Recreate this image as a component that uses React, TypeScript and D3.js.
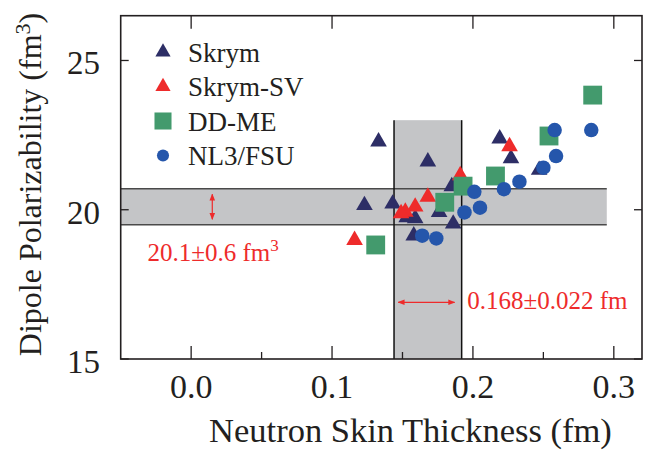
import * as d3 from "d3";

// [skin thickness (fm), polarizability (fm^3)]
const skyrme: [number, number][] = [
  [0.133, 22.28], [0.168, 21.61], [0.219, 22.38], [0.227, 21.72], [0.247, 21.33],
  [0.123, 20.15], [0.143, 20.2], [0.176, 19.92], [0.186, 19.53], [0.185, 20.78],
  [0.153, 19.74], [0.159, 19.71], [0.158, 19.13],
];
const skyrmeSV: [number, number][] = [
  [0.116, 18.98], [0.226, 22.12], [0.168, 20.43], [0.159, 20.1], [0.152, 19.93],
  [0.149, 19.88], [0.191, 21.15],
];
const ddme: [number, number][] = [
  [0.285, 23.84], [0.254, 22.47], [0.216, 21.13], [0.193, 20.79], [0.18, 20.25], [0.131, 18.82],
];
const nl3fsu: [number, number][] = [
  [0.258, 22.67], [0.284, 22.67], [0.259, 21.8], [0.25, 21.41], [0.233, 20.94],
  [0.222, 20.69], [0.201, 20.6], [0.205, 20.07], [0.194, 19.91], [0.164, 19.13], [0.174, 19.04],
];

const legendNames = ["Skrym", "Skrym-SV", "DD-ME", "NL3/FSU"];
const xMajor = [0, 0.1, 0.2, 0.3];
const xMinor = [0.05, 0.15, 0.25];
const yMajor = [15, 20, 25];

// experimental constraints
const alphaBand = [19.5, 20.7];
const alphaBandRight = 0.295;
const skinBand = [0.144, 0.192];
const skinBandTop = 23;

const W = 654;
const H = 452;
const M = { left: 120.7, top: 15.7, right: 12, bottom: 93 };

const NAVY = "#2d2e66";
const RED = "#ee2b2b";
const GREEN = "#439a6d";
const BLUE = "#2556ab";
const INK = "#231f20";
const FONT = "'Liberation Serif', 'Times New Roman', serif";

export default function App() {
  const x = d3.scaleLinear().domain([-0.05, 0.32]).range([M.left, W - M.right]);
  const y = d3.scaleLinear().domain([15, 26.5]).range([H - M.bottom, M.top]);
  const fmt = d3.format(".1f");

  const tri = d3.symbol().type(d3.symbolTriangle);
  const sq = d3.symbol().type(d3.symbolSquare);
  const circ = d3.symbol().type(d3.symbolCircle);

  const series = [
    { data: skyrme, path: tri.size(120)()!, color: NAVY, legend: tri.size(100)()! },
    { data: skyrmeSV, path: tri.size(120)()!, color: RED, legend: tri.size(100)()! },
    { data: ddme, path: sq.size(355)()!, color: GREEN, legend: sq.size(290)()! },
    { data: nl3fsu, path: circ.size(165)()!, color: BLUE, legend: circ.size(115)()! },
  ];

  const x0 = M.left;
  const x1 = W - M.right;
  const y0 = H - M.bottom;
  const y1 = M.top;

  return (
    <svg width={W} height={H} style={{ position: "absolute", left: 0, top: 0, background: "#fff" }}>
      <defs>
        <marker id="ah" viewBox="0 0 10 10" refX="9" refY="5" markerWidth="7" markerHeight="7"
          orient="auto-start-reverse" markerUnits="userSpaceOnUse">
          <path d="M0,1 L10,5 L0,9 z" fill={RED} />
        </marker>
      </defs>

      {/* horizontal band: dipole polarizability */}
      <rect x={x0} y={y(alphaBand[1])} width={x(alphaBandRight) - x0}
        height={y(alphaBand[0]) - y(alphaBand[1])} fill="#c4c5c7" />
      {/* vertical band: neutron skin */}
      <rect x={x(skinBand[0])} y={y(skinBandTop)} width={x(skinBand[1]) - x(skinBand[0])}
        height={y0 - y(skinBandTop)} fill="#c4c5c7" />
      {alphaBand.map((v) => (
        <line key={v} x1={x0} x2={x(alphaBandRight)} y1={y(v)} y2={y(v)} stroke="#4a4a4a" strokeWidth={1.5} />
      ))}
      {skinBand.map((v) => (
        <line key={v} x1={x(v)} x2={x(v)} y1={y(skinBandTop)} y2={y0} stroke="#111" strokeWidth={1.5} />
      ))}

      {/* arrows + labels */}
      <line x1={x(0.015)} x2={x(0.015)} y1={y(20.52)} y2={y(19.68)} stroke={RED} strokeWidth={1.2}
        markerStart="url(#ah)" markerEnd="url(#ah)" />
      <line x1={x(0.147)} x2={x(0.187)} y1={y(16.9)} y2={y(16.9)} stroke={RED} strokeWidth={1.2}
        markerStart="url(#ah)" markerEnd="url(#ah)" />
      <text x={x(-0.031)} y={y(18.28)} fill={RED} fontFamily={FONT} fontSize={25}>
        20.1±0.6 fm<tspan dy={-10} fontSize={17}>3</tspan>
      </text>
      <text x={x(0.196)} y={y(16.66)} fill={RED} fontFamily={FONT} fontSize={25}>
        0.168±0.022 fm
      </text>

      {/* data */}
      {series.map((s, i) => (
        <g key={i} fill={s.color}>
          {s.data.map((d, j) => (
            <path key={j} d={s.path} transform={`translate(${x(d[0])},${y(d[1])})`} />
          ))}
        </g>
      ))}

      {/* legend */}
      {series.map((s, i) => (
        <g key={i} transform={`translate(0,${i * 34.5})`}>
          <path d={s.legend} fill={s.color} transform="translate(163,52)" />
          <text x={188} y={61.5} fontFamily={FONT} fontSize={27} fill={INK}>{legendNames[i]}</text>
        </g>
      ))}

      {/* frame */}
      <rect x={x0} y={y1} width={x1 - x0} height={y0 - y1} fill="none" stroke={INK} strokeWidth={1.6} />

      {/* ticks */}
      {xMajor.map((v) => (
        <g key={v}>
          <line x1={x(v)} x2={x(v)} y1={y0} y2={y0 - 13} stroke={INK} strokeWidth={1.3} />
          <line x1={x(v)} x2={x(v)} y1={y1} y2={y1 + 13} stroke={INK} strokeWidth={1.3} />
          <text x={x(v)} y={y0 + 39} textAnchor="middle" fontFamily={FONT} fontSize={34} fill={INK}>
            {fmt(v)}
          </text>
        </g>
      ))}
      {xMinor.map((v) => (
        <line key={v} x1={x(v)} x2={x(v)} y1={y0} y2={y0 - 7} stroke={INK} strokeWidth={1.3} />
      ))}
      {yMajor.map((v) => (
        <g key={v}>
          <line x1={x0} x2={x0 + 8} y1={y(v)} y2={y(v)} stroke={INK} strokeWidth={1.3} />
          <line x1={x1} x2={x1 - 8} y1={y(v)} y2={y(v)} stroke={INK} strokeWidth={1.3} />
          <text x={100} y={y(v)} dy="0.42em" textAnchor="end" fontFamily={FONT} fontSize={33} fill={INK}>
            {v}
          </text>
        </g>
      ))}

      {/* axis titles */}
      <text x={(x(0) + x(0.3)) / 2 + 8} y={442} textAnchor="middle" fontFamily={FONT} fontSize={34.5} fill={INK}>
        Neutron Skin Thickness (fm)
      </text>
      <text transform={`translate(41,${(y0 + 10) / 2}) rotate(-90)`} textAnchor="middle"
        fontFamily={FONT} fontSize={32} fill={INK}>
        Dipole Polarizability (fm<tspan dy={-11} fontSize={22}>3</tspan><tspan dy={11}>)</tspan>
      </text>
    </svg>
  );
}
